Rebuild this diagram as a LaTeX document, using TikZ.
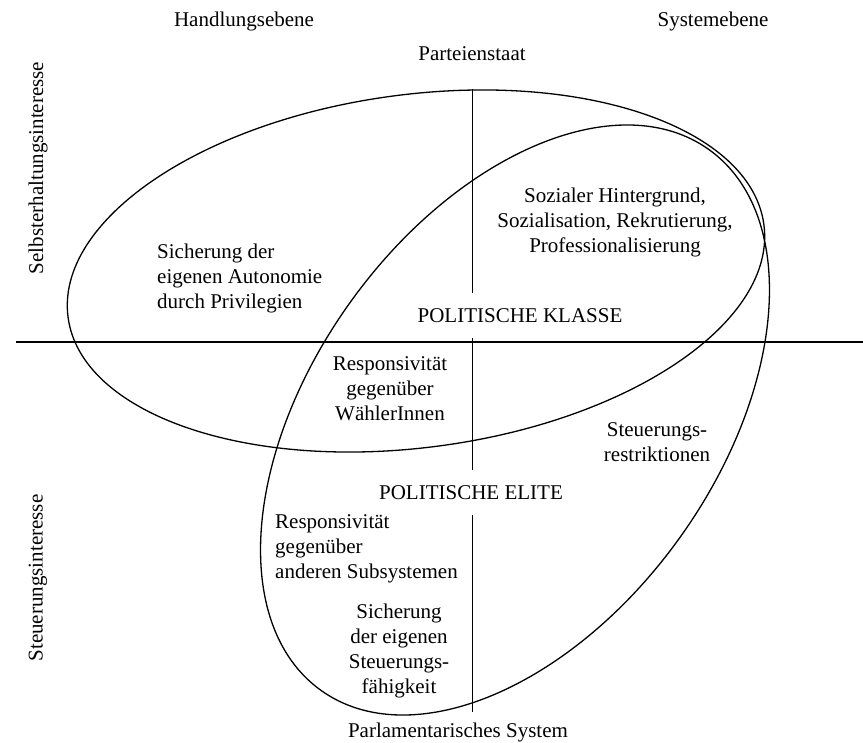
\documentclass[tikz,border=0pt]{standalone}
\usepackage{fontspec}
\setmainfont{Liberation Serif}
\begin{document}
\begin{tikzpicture}[x=1pt,y=1pt,
    txt/.style={font=\fontsize{21}{25}\selectfont, inner sep=0pt, align=center},
    ell/.style={line width=1.3pt}]
\useasboundingbox (0,0) rectangle (863,743);
% Achsen
\coordinate (hl) at (16,401);
\coordinate (hr) at (863,401);
\draw[line width=1.6pt] (hl) -- (hr);
\coordinate (v0) at (472,654);
\coordinate (v1) at (472,450);
\coordinate (v2) at (472,405);
\coordinate (v3) at (472,273);
\coordinate (v4) at (472,228);
\coordinate (v5) at (472,31);
\draw[line width=1pt] (v0) -- (v1) (v2) -- (v3) (v4) -- (v5);
% Ellipsen
\coordinate (klasse) at (416,472);
\coordinate (elite) at (515,323);
\draw[ell, rotate around={7.6:(klasse)}] (klasse) ellipse (351 and 176.5);
\draw[ell, rotate around={54.3:(elite)}] (elite) ellipse (332.8 and 202.5);
% Beschriftung
\node[txt] (handlung) at (244,722) {Handlungsebene};
\node[txt] (system) at (713,722) {Systemebene};
\node[txt] (partei) at (472,689) {Parteienstaat};
\node[txt] (parlament) at (458,11) {Parlamentarisches System};
\node[txt, rotate=90] (selbst) at (38,575) {Selbsterhaltungsinteresse};
\node[txt, rotate=90] (steuer) at (38,165) {Steuerungsinteresse};
\node[txt] (pk) at (520,427) {POLITISCHE KLASSE};
\node[txt] (pe) at (471,250) {POLITISCHE ELITE};
\node[txt] (sozial) at (615,521) {Sozialer Hintergrund,\\Sozialisation, Rekrutierung,\\Professionalisierung};
\node[txt, align=left, anchor=west] (autonomie) at (157,465) {Sicherung der\\eigenen Autonomie\\durch Privilegien};
\node[txt] (waehler) at (390,354) {Responsivität\\gegenüber\\WählerInnen};
\node[txt] (restr) at (657,301) {Steuerungs-\\restriktionen};
\node[txt, align=left, anchor=west] (subsys) at (275,194) {Responsivität\\gegenüber\\anderen Subsystemen};
\node[txt] (faehig) at (399,92) {Sicherung\\der eigenen\\Steuerungs-\\fähigkeit};
\end{tikzpicture}
\end{document}
